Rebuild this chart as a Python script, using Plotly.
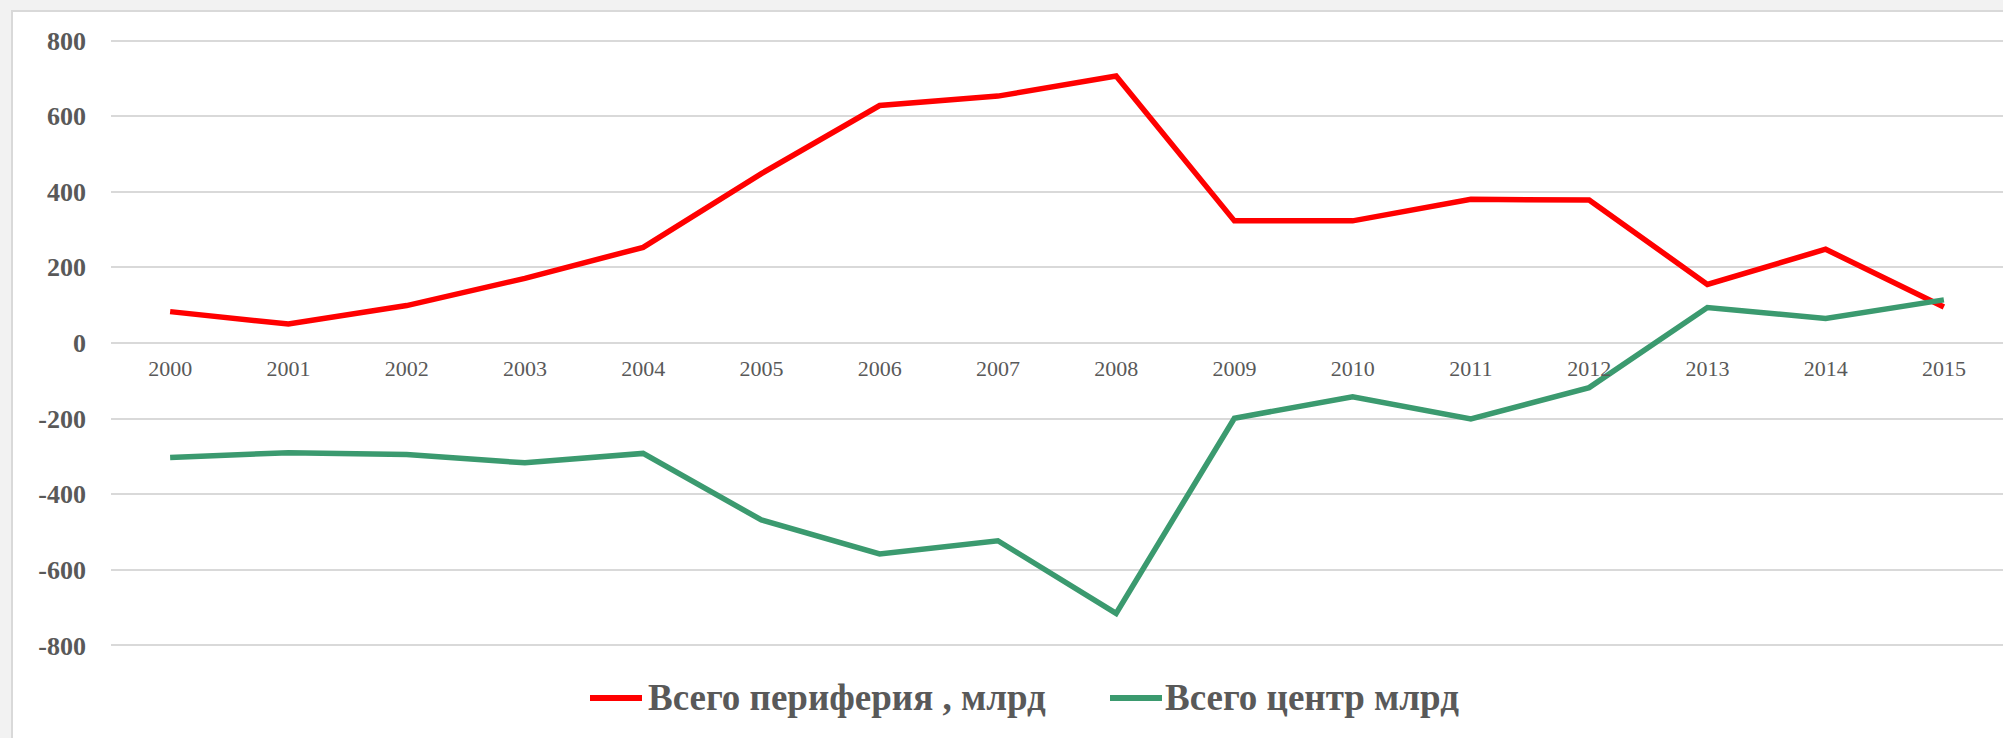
import plotly.graph_objects as go

# ---- data ----
years = ["2000", "2001", "2002", "2003", "2004", "2005", "2006", "2007",
         "2008", "2009", "2010", "2011", "2012", "2013", "2014", "2015"]
periphery = [83, 50, 99, 171, 253, 448, 628, 653, 706, 323, 323, 380, 378, 155, 248, 95]
center = [-303, -290, -295, -317, -292, -468, -558, -523, -715, -199, -142, -201, -118, 94, 65, 114]
y_tickvals = [-800, -600, -400, -200, 0, 200, 400, 600, 800]
y_ticktext = ["-800", "-600", "-400", "-200", "0", "200", "400", "600", "800"]
name_periphery = "Всего периферия , млрд"
name_center = "Всего центр млрд"

RED = "#FF0000"
GREEN = "#3B9A6F"
GRAY_TXT = "#595959"
GRID = "#D9D9D9"
SERIF = "Liberation Serif, Times New Roman, serif"

W, H = 2003, 738
ML, MR, MT, MB = 111, 0, 39, 91
PW, PH = W - ML - MR, H - MT - MB


def px(x):
    return (x - ML) / PW


def py(y):
    return (H - MB - y) / PH


fig = go.Figure()
fig.add_trace(go.Scatter(x=years, y=periphery, mode="lines", name=name_periphery,
                         line=dict(color=RED, width=5.5), showlegend=False))
fig.add_trace(go.Scatter(x=years, y=center, mode="lines", name=name_center,
                         line=dict(color=GREEN, width=5.5), showlegend=False))

shapes = [
    # chart area (white with light border)
    dict(type="rect", xref="paper", yref="paper", layer="below",
         x0=px(12), x1=px(W + 20), y0=py(H + 20), y1=py(11),
         fillcolor="white", line=dict(color=GRID, width=2)),
    # legend samples
    dict(type="line", xref="paper", yref="paper", x0=px(590), x1=px(642),
         y0=py(698), y1=py(698), line=dict(color=RED, width=6)),
    dict(type="line", xref="paper", yref="paper", x0=px(1110), x1=px(1162),
         y0=py(698), y1=py(698), line=dict(color=GREEN, width=6)),
]
annotations = [
    dict(xref="paper", yref="paper", x=px(646), y=py(697), xanchor="left", yanchor="middle",
         text=name_periphery, showarrow=False,
         font=dict(family=SERIF, size=37, color=GRAY_TXT, weight="bold")),
    dict(xref="paper", yref="paper", x=px(1163), y=py(697), xanchor="left", yanchor="middle",
         text=name_center, showarrow=False,
         font=dict(family=SERIF, size=37, color=GRAY_TXT, weight="bold")),
]

fig.update_layout(
    width=W, height=H,
    margin=dict(l=ML, r=MR, t=MT, b=MB, pad=0),
    paper_bgcolor="#F2F2F2",
    plot_bgcolor="rgba(0,0,0,0)",
    shapes=shapes,
    annotations=annotations,
    showlegend=False,
    xaxis=dict(type="category", range=[-0.5, 15.5], showgrid=False, showline=False,
               zeroline=False, anchor="free", position=0.5, ticks="",
               ticklabelstandoff=10,
               tickfont=dict(family=SERIF, size=22, color=GRAY_TXT)),
    yaxis=dict(range=[-804, 804], tickmode="array", tickvals=y_tickvals, ticktext=y_ticktext,
               showgrid=True, gridcolor=GRID,
               gridwidth=2, zeroline=False, showline=False, ticks="",
               ticklabelstandoff=24,
               tickfont=dict(family=SERIF, size=26, color=GRAY_TXT, weight="bold")),
)

fig.write_html(
    "out.html",
    config={"displayModeBar": False},
    post_script="document.body.style.margin='0';document.body.style.overflow='hidden';",
)
